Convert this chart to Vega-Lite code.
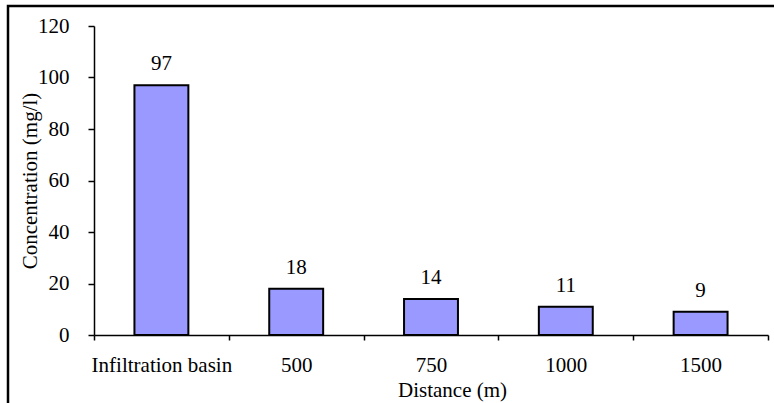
{
  "$schema": "https://vega.github.io/schema/vega-lite/v6.json",
  "width": 674,
  "height": 309,
  "autosize": "none",
  "padding": {"left": 94, "top": 26, "right": 6, "bottom": 68},
  "background": "white",
  "data": {
    "values": [
      {"distance": "Infiltration basin", "concentration": 97},
      {"distance": "500", "concentration": 18},
      {"distance": "750", "concentration": 14},
      {"distance": "1000", "concentration": 11},
      {"distance": "1500", "concentration": 9}
    ]
  },
  "config": {
    "view": {"stroke": null},
    "font": "Times New Roman, Liberation Serif, serif",
    "axis": {
      "labelFont": "Times New Roman, Liberation Serif, serif",
      "titleFont": "Times New Roman, Liberation Serif, serif",
      "labelFontSize": 21,
      "titleFontSize": 21,
      "labelColor": "black",
      "titleColor": "black",
      "titleFontWeight": "normal",
      "domainColor": "black",
      "tickColor": "black",
      "domainWidth": 1.5,
      "tickWidth": 1.5,
      "grid": false
    }
  },
  "layer": [
    {
      "data": {"values": [{}]},
      "mark": {"type": "rect", "fill": null, "stroke": "black", "strokeWidth": 2.5, "clip": false},
      "encoding": {
        "x": {"value": -86},
        "x2": {"value": 700},
        "y": {"value": -20},
        "y2": {"value": 400}
      }
    },
    {
      "mark": {"type": "bar", "fill": "#9999FF", "stroke": "black", "strokeWidth": 2, "width": {"band": 0.4}},
      "encoding": {
        "x": {
          "field": "distance",
          "type": "nominal",
          "sort": null,
          "scale": {"paddingInner": 0, "paddingOuter": 0},
          "axis": {
            "title": "Distance (m)",
            "labelAngle": 0,
            "tickBand": "extent",
            "tickSize": 5,
            "labelPadding": 14,
            "titlePadding": 4,
            "titleX": 358
          }
        },
        "y": {
          "field": "concentration",
          "type": "quantitative",
          "scale": {"domain": [0, 120], "nice": false},
          "axis": {
            "title": "Concentration (mg/l)",
            "values": [0, 20, 40, 60, 80, 100, 120],
            "tickSize": 6,
            "labelPadding": 19,
            "titlePadding": -3
          }
        }
      }
    },
    {
      "mark": {"type": "text", "fontSize": 21, "font": "Times New Roman, Liberation Serif, serif", "color": "black", "baseline": "alphabetic", "dy": -15},
      "encoding": {
        "x": {"field": "distance", "type": "nominal", "sort": null},
        "y": {"field": "concentration", "type": "quantitative"},
        "text": {"field": "concentration", "type": "quantitative"}
      }
    }
  ]
}
